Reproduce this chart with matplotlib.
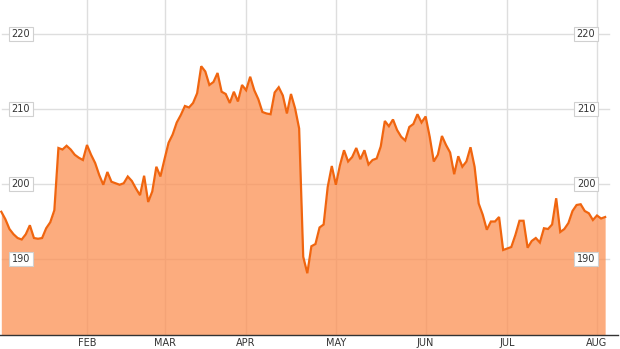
import matplotlib
matplotlib.use("Agg")
import matplotlib.pyplot as plt

# Trading-day series (index 0 = first trading day shown)
price = [
    196.3, 195.3, 194.0, 193.3, 192.8, 192.6, 193.3, 194.5, 192.8, 192.7,
    192.8, 194.1, 194.9, 196.5, 204.8, 204.6, 205.1, 204.6, 203.9, 203.5,
    203.2, 205.2, 203.9, 202.8, 201.2, 199.9, 201.6, 200.3, 200.1, 199.9,
    200.1, 201.0, 200.4, 199.4, 198.5, 201.1, 197.6, 199.0, 202.3, 201.0,
    203.3, 205.5, 206.6, 208.2, 209.2, 210.4, 210.2, 210.8, 212.1, 215.7,
    215.0, 213.2, 213.6, 214.8, 212.3, 212.0, 210.8, 212.3, 211.0, 213.2,
    212.5, 214.3, 212.5, 211.3, 209.6, 209.4, 209.3, 212.2, 212.9, 211.8,
    209.4, 212.0, 210.1, 207.4, 190.3, 188.1, 191.7, 192.0, 194.2, 194.6,
    199.6, 202.4, 199.9, 202.5, 204.5, 203.0, 203.6, 204.8, 203.3, 204.5,
    202.6, 203.2, 203.4, 205.0, 208.4, 207.7, 208.6, 207.2, 206.3, 205.8,
    207.6, 208.0, 209.3, 208.2, 209.0, 206.3, 203.0, 203.9, 206.4, 205.2,
    204.2, 201.3, 203.7, 202.3, 203.0, 204.9, 202.3, 197.4, 195.9, 193.9,
    195.0, 195.0, 195.6, 191.2, 191.4, 191.6, 193.2, 195.1, 195.1, 191.5,
    192.4, 192.8, 192.2, 194.1, 194.0, 194.6, 198.1, 193.6, 194.0, 194.8,
    196.4, 197.2, 197.3, 196.4, 196.1, 195.2, 195.8, 195.4, 195.6,
]
day = list(range(len(price)))

month_days = [21, 40, 60, 82, 104, 124, 146]
month_labels = ["FEB", "MAR", "APR", "MAY", "JUN", "JUL", "AUG"]
y_levels = [190, 200, 210, 220]

W, H = 620, 349
fig = plt.figure(figsize=(W / 100, H / 100), dpi=100)
ax = fig.add_axes([0, 14 / H, 618 / W, 335 / H])

ymin, ymax = 179.87, 224.53
ax.set_xlim(-0.32, 151.15)
ax.set_ylim(ymin, ymax)

ax.fill_between(day, price, ymin, color="#FC9053", alpha=0.75,
                linewidth=0, zorder=2)
ax.plot(day, price, color="#F0650F", linewidth=1.6, zorder=3,
        solid_joinstyle="miter")

for d in month_days:
    ax.axvline(d, color="#dedede", linewidth=1, zorder=1)
for v in y_levels:
    ax.axhline(v, xmin=0.003, xmax=609 / 618, color="#dedede",
               linewidth=1, zorder=1)

ytr = ax.get_yaxis_transform()
for v in y_levels:
    for xf in (21 / 618, 586 / 618):
        ax.text(xf, v, str(v), transform=ytr, ha="center", va="center",
                fontsize=7, color="#333333", zorder=5,
                bbox=dict(boxstyle="square,pad=0.25", fc="white",
                          ec="#d0d0d0", lw=0.8))

ax.set_xticks(month_days)
ax.set_xticklabels(month_labels, fontsize=7, color="#333333",
                   fontfamily="DejaVu Sans")
ax.tick_params(axis="x", length=0, pad=2)
ax.set_yticks([])

for s in ("top", "left", "right"):
    ax.spines[s].set_visible(False)
ax.spines["bottom"].set_color("#333333")
ax.spines["bottom"].set_linewidth(1)
ax.spines["bottom"].set_zorder(6)

fig.savefig("out.png", dpi=100, facecolor="white")
